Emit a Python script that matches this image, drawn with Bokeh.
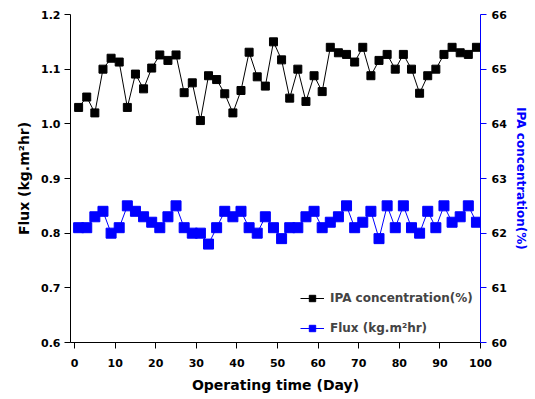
from bokeh.plotting import figure
from bokeh.models import Range1d, LinearAxis, Legend, LegendItem, FixedTicker
from bokeh.embed import file_html
from bokeh.resources import INLINE

# Operating time (days)
days = list(range(1, 100, 2))

# IPA concentration (%) - right axis
ipa = [64.30, 64.49, 64.20, 65.00, 65.20, 65.13, 64.30, 64.91, 64.64, 65.02,
       65.26, 65.16, 65.26, 64.57, 64.75, 64.06, 64.88, 64.81, 64.55, 64.20,
       64.61, 65.31, 64.86, 64.69, 65.50, 65.17, 64.47, 65.00, 64.41, 64.88,
       64.59, 65.40, 65.30, 65.27, 65.13, 65.40, 64.88, 65.16, 65.27, 65.00,
       65.27, 65.00, 64.56, 64.88, 65.00, 65.27, 65.40, 65.30, 65.27, 65.40]

# Flux (kg.m2hr) - left axis
flux = [0.81, 0.81, 0.83, 0.84, 0.80, 0.81, 0.85, 0.84, 0.83, 0.82,
        0.81, 0.83, 0.85, 0.81, 0.80, 0.80, 0.78, 0.81, 0.84, 0.83,
        0.84, 0.81, 0.80, 0.83, 0.81, 0.79, 0.81, 0.81, 0.83, 0.84,
        0.81, 0.82, 0.83, 0.85, 0.81, 0.82, 0.84, 0.79, 0.85, 0.81,
        0.85, 0.81, 0.80, 0.84, 0.81, 0.85, 0.82, 0.83, 0.85, 0.82]

x_ticks = list(range(0, 101, 10))
left_ticks = [0.6, 0.7, 0.8, 0.9, 1.0, 1.1, 1.2]
right_ticks = [60, 61, 62, 63, 64, 65, 66]

FONT = "DejaVu Sans"
BLUE = "#0000FF"

p = figure(width=530, height=396, output_backend="svg", toolbar_location=None,
           x_range=Range1d(-1.0, 100), y_range=Range1d(0.6, 1.2),
           min_border_left=70, min_border_right=46, min_border_top=14,
           min_border_bottom=54)
p.extra_y_ranges = {"ipa": Range1d(60, 66)}
p.outline_line_color = None
p.grid.visible = False
p.background_fill_color = "white"

# Lines and markers
l_ipa = p.line(days, ipa, line_color="black", line_width=1, y_range_name="ipa")
s_ipa = p.scatter(days, ipa, marker="square", size=8, fill_color="black",
                  line_color="black", y_range_name="ipa")
l_flux = p.line(days, flux, line_color=BLUE, line_width=1)
s_flux = p.scatter(days, flux, marker="square", size=10, fill_color=BLUE,
                   line_color=BLUE)

# Axes styling
for ax in [p.xaxis[0], p.yaxis[0]]:
    ax.axis_line_color = "black"
    ax.major_tick_line_color = "black"
    ax.minor_tick_line_color = None
    ax.major_tick_in = 0
    ax.major_tick_out = 6
    ax.major_label_text_font = FONT
    ax.major_label_text_font_style = "bold"
    ax.major_label_text_font_size = "11px"
    ax.major_label_text_color = "black"
    ax.axis_label_text_font = FONT
    ax.axis_label_text_font_style = "bold"
    ax.axis_label_text_font_size = "14px"
    ax.axis_label_text_color = "black"

p.xaxis.ticker = FixedTicker(ticks=x_ticks)
p.xaxis.axis_label = "Operating time (Day)"
p.xaxis.axis_label_standoff = 7
p.xaxis.major_label_standoff = 10

p.yaxis.ticker = FixedTicker(ticks=left_ticks)
p.yaxis.axis_label = "Flux (kg.m²hr)"
p.yaxis.axis_label_standoff = 6
p.yaxis.major_label_standoff = 4
p.yaxis.major_label_overrides = {t: f"{t:.1f}" for t in left_ticks}

ry = LinearAxis(y_range_name="ipa", ticker=FixedTicker(ticks=right_ticks),
                axis_label="IPA concentration(%)")
ry.axis_line_color = BLUE
ry.major_tick_line_color = BLUE
ry.minor_tick_line_color = None
ry.major_tick_in = 0
ry.major_tick_out = 6
ry.major_label_standoff = 5
ry.major_label_text_font = FONT
ry.major_label_text_font_style = "bold"
ry.major_label_text_font_size = "11px"
ry.major_label_text_color = "black"
ry.axis_label_text_font = FONT
ry.axis_label_text_font_style = "bold"
ry.axis_label_text_font_size = "12px"
ry.axis_label_text_color = BLUE
ry.axis_label_standoff = 4
p.add_layout(ry, "right")

legend = Legend(items=[
    LegendItem(label="IPA concentration(%)", renderers=[l_ipa, s_ipa]),
    LegendItem(label="Flux (kg.m²hr)", renderers=[l_flux, s_flux]),
], location=(230, 6))
legend.background_fill_alpha = 0
legend.border_line_color = None
legend.label_text_font = FONT
legend.label_text_font_style = "bold"
legend.label_text_font_size = "12px"
legend.glyph_width = 24
legend.glyph_height = 16
legend.label_height = 16
legend.spacing = 14
legend.padding = 2
legend.margin = 0
legend.label_standoff = 6
p.add_layout(legend)

open("out.html", "w").write(file_html(p, INLINE))
